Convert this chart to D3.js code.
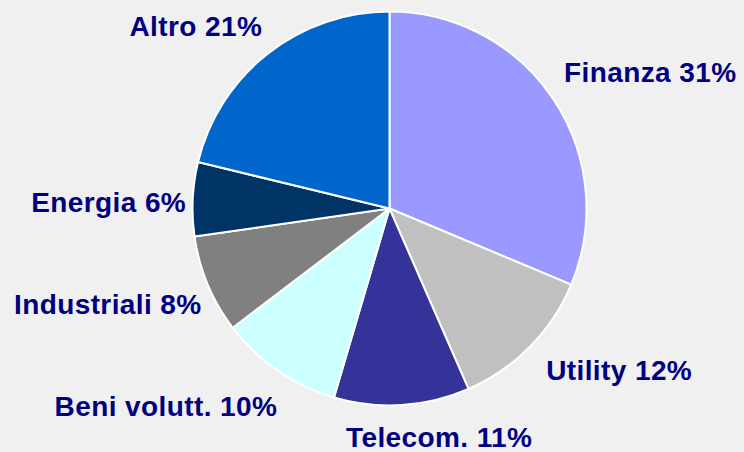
<!DOCTYPE html>
<html>
<head>
<meta charset="utf-8">
<script src="https://cdn.jsdelivr.net/npm/d3@7"></script>
<style>
  html, body { margin: 0; padding: 0; background: #f0f0f0; }
  svg { display: block; }
  .lbl { font-family: "Liberation Sans", Arial, sans-serif; font-weight: bold; font-size: 28px; letter-spacing: 0.4px; fill: #000080; }
</style>
</head>
<body>
<svg id="chart" width="744" height="452"></svg>
<script>
// Sector weights (%)
const sectors = ["Finanza", "Utility", "Telecom.", "Beni volutt.", "Industriali", "Energia", "Altro"];
const weights = [31, 12, 11, 10, 8, 6, 21];
const colors  = ["#9999ff", "#c0c0c0", "#333399", "#ccffff", "#808080", "#003366", "#0066cc"];

// Label placement: text anchor and a small offset from the point just outside each slice
const labelAnchor = ["start", "start", "middle", "end", "end", "end", "end"];
const labelShift  = [[-5, -7], [3, 20], [36, 23], [10, 30], [11, 22], [12, 14], [6, -3]];

const W = 744, H = 452;
const cx = 389.5, cy = 208.5, r = 197;

const svg = d3.select("#chart");
svg.append("rect").attr("width", W).attr("height", H).attr("fill", "#f0f0f0");

const data = sectors.map((s, i) => ({ name: s, value: weights[i], i }));
const pie = d3.pie().sort(null).value(d => d.value);
const arcs = pie(data);
const arc = d3.arc().innerRadius(0).outerRadius(r);

const g = svg.append("g").attr("transform", `translate(${cx},${cy})`);

g.selectAll("path.slice")
  .data(arcs)
  .join("path")
  .attr("class", "slice")
  .attr("d", arc)
  .attr("fill", d => colors[d.data.i])
  .attr("stroke", "#ffffff")
  .attr("stroke-width", 2)
  .attr("stroke-linejoin", "round");

const labelR = 215.6;
g.selectAll("text.lbl")
  .data(arcs)
  .join("text")
  .attr("class", "lbl")
  .attr("x", d => {
    const a = (d.startAngle + d.endAngle) / 2;
    return Math.sin(a) * labelR + labelShift[d.data.i][0];
  })
  .attr("y", d => {
    const a = (d.startAngle + d.endAngle) / 2;
    return -Math.cos(a) * labelR + labelShift[d.data.i][1];
  })
  .attr("text-anchor", d => labelAnchor[d.data.i])
  .text(d => `${d.data.name} ${d.data.value}%`);
</script>
</body>
</html>
